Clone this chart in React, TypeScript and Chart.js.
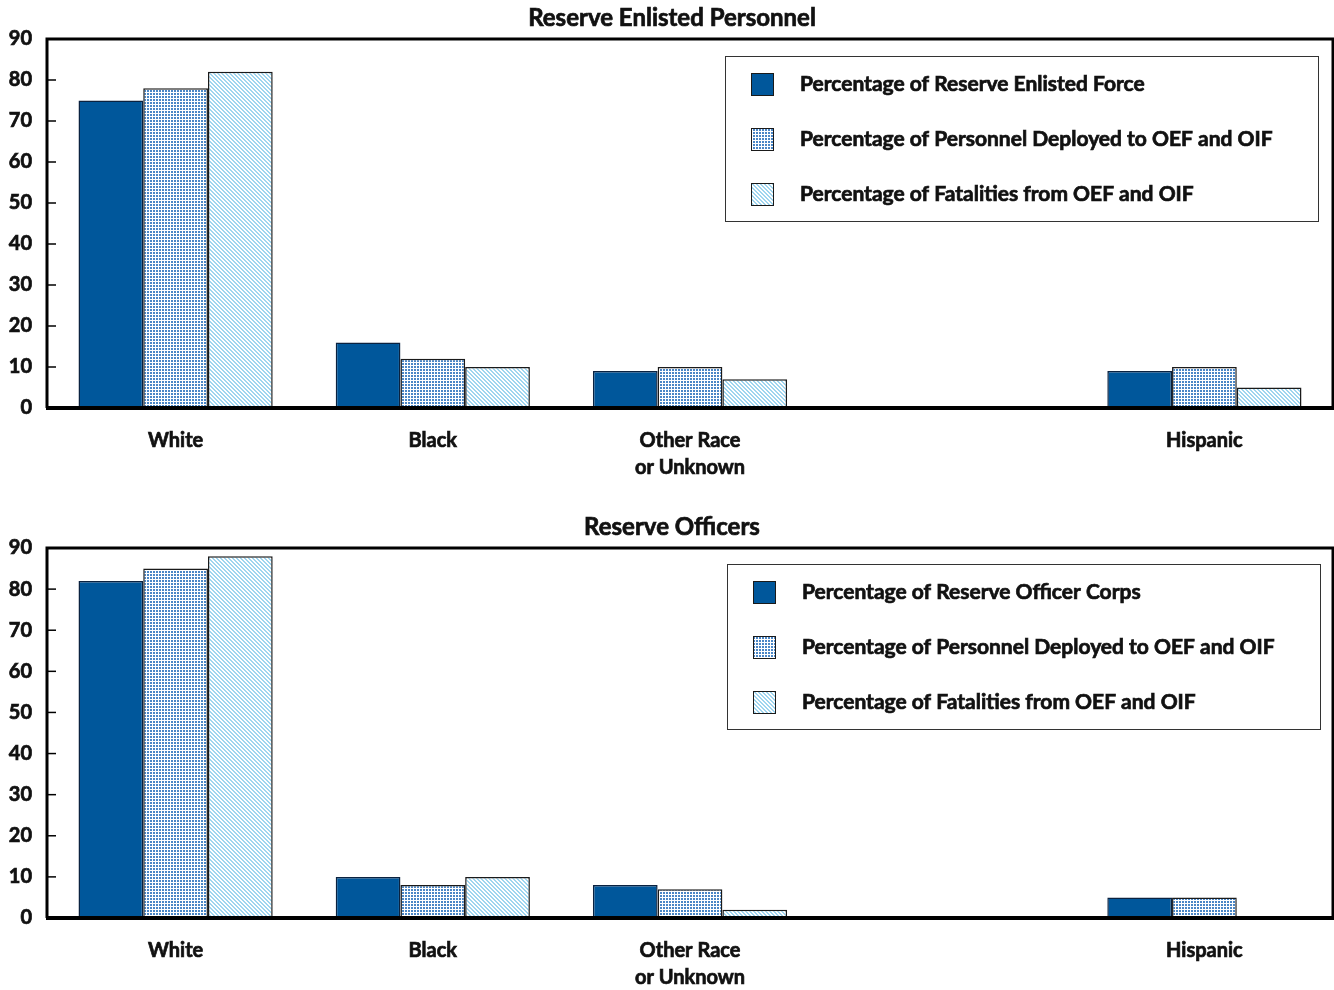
import React, { useEffect, useRef } from "react";
import { Chart, registerables } from "chart.js";
Chart.register(...registerables);

const categories: (string | string[])[] = ["White", "Black", ["Other Race", "or Unknown"], "", "Hispanic"];
const yTickValues = [0, 10, 20, 30, 40, 50, 60, 70, 80, 90];

const enlistedTitle = "Reserve Enlisted Personnel";
const enlistedLabels = [
  "Percentage of Reserve Enlisted Force",
  "Percentage of Personnel Deployed to OEF and OIF",
  "Percentage of Fatalities from OEF and OIF",
];
const enlistedForce = [75, 16, 9, null, 9];
const enlistedDeployed = [78, 12, 10, null, 10];
const enlistedFatalities = [82, 10, 7, null, 5];

const officerTitle = "Reserve Officers";
const officerLabels = [
  "Percentage of Reserve Officer Corps",
  "Percentage of Personnel Deployed to OEF and OIF",
  "Percentage of Fatalities from OEF and OIF",
];
const officerCorps = [82, 10, 8, null, 5];
const officerDeployed = [85, 8, 7, null, 5];
const officerFatalities = [88, 10, 2, null, 0.3];

const FONT = "Lato, 'Open Sans', sans-serif";
const SOLID = "#00579b";
const TEXT = "#111";

function makeGridPattern(): CanvasPattern | string {
  const c = document.createElement("canvas");
  c.width = 3;
  c.height = 3;
  const g = c.getContext("2d");
  if (!g) return "#6f9fd2";
  g.fillStyle = "#ffffff";
  g.fillRect(0, 0, 3, 3);
  g.fillStyle = "#4a86c6";
  g.fillRect(0, 0, 2, 2);
  return g.createPattern(c, "repeat") || "#6f9fd2";
}

function makeHatchPattern(): CanvasPattern | string {
  const c = document.createElement("canvas");
  c.width = 4;
  c.height = 4;
  const g = c.getContext("2d");
  if (!g) return "#cfeaf6";
  g.fillStyle = "#ffffff";
  g.fillRect(0, 0, 4, 4);
  g.fillStyle = "#9fd5ef";
  for (let i = 0; i < 4; i++) {
    g.fillRect(i, i, 1, 1);
    g.fillRect((i + 1) % 4, i, 1, 1);
  }
  return g.createPattern(c, "repeat") || "#cfeaf6";
}

function heavyText(ctx: CanvasRenderingContext2D, s: string, x: number, y: number) {
  ctx.lineWidth = 0.7;
  ctx.strokeStyle = TEXT;
  ctx.strokeText(s, x, y);
  ctx.fillText(s, x, y);
}

function buildChart(
  canvas: HTMLCanvasElement,
  height: number,
  plotTop: number,
  baseline: number,
  title: string,
  labels: string[],
  s1: (number | null)[],
  s2: (number | null)[],
  s3: (number | null)[],
  legendTopOffset: number,
  legendRightOffset: number
) {
  const p2 = makeGridPattern();
  const p3 = makeHatchPattern();
  const fills: (string | CanvasPattern)[] = [SOLID, p2, p3];

  const framePlugin = {
    id: "frame",
    afterDatasetsDraw(chart: any) {
      const { ctx, chartArea } = chart;
      const { left, right, top, bottom } = chartArea;
      const yScale = chart.scales.y;
      ctx.save();
      ctx.strokeStyle = "#000";
      ctx.lineWidth = 3;
      ctx.beginPath();
      ctx.moveTo(left, bottom);
      ctx.lineTo(left, top);
      ctx.lineTo(right, top);
      ctx.lineTo(right, bottom);
      ctx.stroke();
      ctx.lineWidth = 4;
      ctx.beginPath();
      ctx.moveTo(left - 1, bottom);
      ctx.lineTo(right + 1, bottom);
      ctx.stroke();
      ctx.lineWidth = 1.5;
      for (const v of yTickValues) {
        const y = yScale.getPixelForValue(v);
        ctx.beginPath();
        ctx.moveTo(left, y);
        ctx.lineTo(left + 9, y);
        ctx.stroke();
      }
      // title
      ctx.fillStyle = TEXT;
      ctx.font = `bold 24px ${FONT}`;
      ctx.textAlign = "center";
      ctx.textBaseline = "middle";
      heavyText(ctx, title, chart.width / 2 + 5, top - 21);
      // legend
      const bw = 593;
      const bh = 165;
      const bx = right - legendRightOffset - bw;
      const by = top + legendTopOffset;
      ctx.fillStyle = "#fff";
      ctx.fillRect(bx, by, bw, bh);
      ctx.strokeStyle = "#333";
      ctx.lineWidth = 1;
      ctx.strokeRect(bx + 0.5, by + 0.5, bw, bh);
      labels.forEach((lab, i) => {
        const cy = by + 28 + i * 55;
        ctx.fillStyle = fills[i] as any;
        ctx.fillRect(bx + 26, cy - 11, 23, 23);
        ctx.strokeStyle = "#1a1a1a";
        ctx.lineWidth = 1;
        ctx.strokeRect(bx + 26.5, cy - 10.5, 22, 22);
        ctx.fillStyle = TEXT;
        ctx.font = `bold 21px ${FONT}`;
        ctx.textAlign = "left";
        ctx.textBaseline = "middle";
        heavyText(ctx, lab, bx + 75, cy);
      });
      ctx.restore();
    },
  };

  return new Chart(canvas, {
    type: "bar",
    data: {
      labels: categories as any,
      datasets: [s1, s2, s3].map((d, i) => ({
        label: labels[i],
        data: d,
        backgroundColor: fills[i] as any,
        borderColor: i === 0 ? "#0a2240" : "#1a1a1a",
        borderWidth: 1.5,
        borderSkipped: "bottom",
        categoryPercentage: 0.755,
        barPercentage: 1.0,
      })),
    },
    options: {
      responsive: false,
      animation: false,
      devicePixelRatio: 1,
      layout: { padding: { top: plotTop, right: 1, left: 0, bottom: 0 } },
      plugins: {
        legend: { display: false },
        title: { display: false },
        tooltip: { enabled: false },
      },
      scales: {
        x: {
          grid: { display: false, drawTicks: false },
          border: { display: false },
          ticks: {
            color: TEXT,
            font: { family: FONT, size: 20, weight: "bold", lineHeight: 1.35 },
            textStrokeColor: TEXT,
            textStrokeWidth: 0.7,
            padding: 19,
            maxRotation: 0,
            autoSkip: false,
          },
          afterFit(scale: any) {
            scale.height = height - baseline;
          },
        },
        y: {
          min: 0,
          max: 90,
          grid: { display: false, drawTicks: false },
          border: { display: false },
          ticks: {
            stepSize: 10,
            color: TEXT,
            font: { family: FONT, size: 20, weight: "bold" },
            textStrokeColor: TEXT,
            textStrokeWidth: 0.7,
            padding: 15,
          },
          afterFit(scale: any) {
            scale.width = 47;
          },
        },
      },
    },
    plugins: [framePlugin],
  } as any);
}

export default function App() {
  const topRef = useRef<HTMLCanvasElement>(null);
  const botRef = useRef<HTMLCanvasElement>(null);

  useEffect(() => {
    const charts: Chart[] = [];
    if (topRef.current) {
      charts.push(
        buildChart(topRef.current, 490, 39, 408, enlistedTitle, enlistedLabels,
          enlistedForce, enlistedDeployed, enlistedFatalities, 17, 15)
      );
    }
    if (botRef.current) {
      charts.push(
        buildChart(botRef.current, 500, 58, 428, officerTitle, officerLabels,
          officerCorps, officerDeployed, officerFatalities, 16, 13)
      );
    }
    return () => charts.forEach((c) => c.destroy());
  }, []);

  return (
    <div style={{ position: "absolute", left: 0, top: 0, width: 1334, height: 990, background: "#fff" }}>
      <canvas ref={topRef} width={1334} height={490} style={{ display: "block", width: 1334, height: 490 }} />
      <canvas ref={botRef} width={1334} height={500} style={{ display: "block", width: 1334, height: 500 }} />
    </div>
  );
}
